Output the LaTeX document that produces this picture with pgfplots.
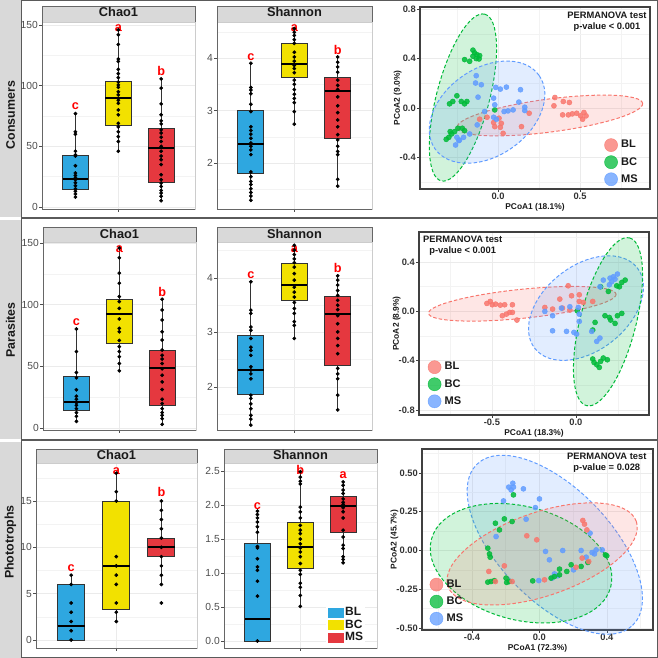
\documentclass[border=0pt]{standalone}
\usepackage{fontspec}
\setmainfont{Liberation Sans}
\usepackage{pgfplots}
\pgfplotsset{compat=1.18}
\usepgfplotslibrary{statistics}
\definecolor{cBL}{HTML}{2EA7E0}
\definecolor{cBC}{HTML}{F2E100}
\definecolor{cMS}{HTML}{E5383F}
\definecolor{pBL}{HTML}{F8766D}
\definecolor{pBC}{HTML}{00BA38}
\definecolor{pMS}{HTML}{619CFF}
\definecolor{gridc}{HTML}{EBEBEB}
\definecolor{stripc}{HTML}{D9D9D9}
\definecolor{tickc}{HTML}{4D4D4D}
\definecolor{framec}{HTML}{5A5A5A}
\definecolor{lettc}{HTML}{FF0000}

\newcommand{\bx}[7]{\addplot[forget plot, draw=black!80, fill=#2, line width=0.75pt, boxplot prepared={draw position=#1, lower whisker=#3, lower quartile=#4, median=#5, upper quartile=#6, upper whisker=#7, box extend=0.6, whisker extend=0}] coordinates {};}
\newcommand{\ellip}[7]{\pgfplotsextra{\begin{pgfscope}%
\pgfsetfillcolor{#1}\pgfsetstrokecolor{#1}\pgfsetfillopacity{0.18}\pgfsetlinewidth{0.75pt}\pgfsetdash{{2.6pt}{1.6pt}}{0pt}%
\pgfpathellipse{\pgfplotspointaxisxy{#2}{#3}}{\pgfplotspointaxisdirectionxy{#4}{#5}}{\pgfplotspointaxisdirectionxy{#6}{#7}}%
\pgfusepath{fill,stroke}\end{pgfscope}}}
\tikzset{lett/.style={anchor=base, inner sep=0pt, text=lettc, font=\bfseries\fontsize{9.5}{10}\selectfont},
 hdr/.style={inner sep=0pt, font=\bfseries\fontsize{9.6}{10}\selectfont, text=black!90},
 perm/.style={align=center, font=\bfseries\fontsize{7}{8.2}\selectfont, text=black!90}}

\pgfplotsset{
 boxax/.style={scale only axis, anchor=north west, clip=false,
   xmin=0.22, xmax=3.79, xtick={2}, xticklabels={},
   grid=both, minor x tick num=0,
   major grid style={draw=gridc, line width=0.6pt},
   minor grid style={draw=gridc!60, line width=0.4pt},
   tick align=outside, major tick length=2pt, minor tick length=0pt,
   xtick pos=bottom, ytick pos=left,
   tick style={draw=tickc, line width=0.5pt},
   axis line style={draw=gray!40, line width=0.5pt},
   yticklabel style={font=\fontsize{7.7}{8}\selectfont, text=tickc, inner sep=1pt},
   /pgf/number format/assume math mode=true,
   boxplot/draw direction=y,
   boxplot/every median/.style={draw=black, line width=1.5pt},
   extra description/.code={\draw[draw=black!60, line width=0.7pt] (0,1) -- (0,0) -- (1,0);}},
 pts/.style={forget plot, only marks, mark=*, mark size=1.2pt, black},
 pcoa/.style={scale only axis, anchor=north west, clip=false,
   grid=both,
   major grid style={draw=gridc, line width=0.6pt},
   minor grid style={draw=gridc!60, line width=0.4pt},
   tick align=outside, major tick length=2pt, minor tick length=0pt,
   xtick pos=bottom, ytick pos=left,
   tick style={draw=black!75, line width=0.5pt},
   axis line style={draw=black!75, line width=0.8pt},
   ticklabel style={font=\bfseries\fontsize{7}{8}\selectfont, text=black!80, inner sep=1pt},
   label style={font=\bfseries\fontsize{6.3}{7}\selectfont, text=black!90},
   xlabel style={yshift=2pt}, ylabel style={yshift=-6pt},
   legend cell align=left},
 sBL/.style={forget plot, only marks, mark=*, mark size=1.9pt, color=pBL, opacity=0.85},
 sBC/.style={forget plot, only marks, mark=*, mark size=1.9pt, color=pBC, opacity=0.85},
 sMS/.style={forget plot, only marks, mark=*, mark size=1.9pt, color=pMS, opacity=0.85},
 pleg/.style={legend style={at={#1}, anchor=north west, draw=none, fill=none,
   font=\bfseries\fontsize{8.3}{9}\selectfont, text=black!90, row sep=2.6pt, column sep=2pt,
   inner sep=0pt, nodes={inner sep=0.5pt}}},
}

\begin{document}
\begin{tikzpicture}
\path[use as bounding box] (0pt,0pt) rectangle (493.5pt,-493.5pt);
\begin{scope}[x=0.75pt, y=-0.75pt]
\fill[stripc] (0,0) rectangle (20.5,216.5);
\fill[stripc] (0,219.5) rectangle (20.5,438.5);
\fill[stripc] (0,441.5) rectangle (20.5,658);
\draw[framec, line width=0.9pt] (21.5,0) -- (21.5,658);
\draw[framec, line width=0.9pt] (21.5,0.5) -- (657.5,0.5) -- (657.5,657.5) -- (21.5,657.5);
\draw[framec, line width=0.9pt] (21.5,218) -- (657.5,218);
\draw[framec, line width=0.9pt] (21.5,440) -- (657.5,440);
\node[rotate=90, font=\bfseries\fontsize{9.3}{10}\selectfont, text=black!90] at (10.5,115) {Consumers};
\node[rotate=90, font=\bfseries\fontsize{9.3}{10}\selectfont, text=black!90] at (10.5,330) {Parasites};
\node[rotate=90, font=\bfseries\fontsize{9.3}{10}\selectfont, text=black!90] at (10.5,542) {Phototrophs};
% headers
\filldraw[fill=stripc, draw=gray!80!black, line width=0.5pt] (42,6) rectangle (195,22);
\node[hdr] at (118.5,12.3) {Chao1};
\filldraw[fill=stripc, draw=gray!80!black, line width=0.5pt] (217,6) rectangle (372,22);
\node[hdr] at (294.5,12.3) {Shannon};
\filldraw[fill=stripc, draw=gray!80!black, line width=0.5pt] (43,227) rectangle (196,242);
\node[hdr] at (119.5,233.5) {Chao1};
\filldraw[fill=stripc, draw=gray!80!black, line width=0.5pt] (217,227) rectangle (372,242);
\node[hdr] at (294.5,233.5) {Shannon};
\filldraw[fill=stripc, draw=gray!80!black, line width=0.5pt] (36,449) rectangle (197,463);
\node[hdr] at (116.5,455) {Chao1};
\filldraw[fill=stripc, draw=gray!80!black, line width=0.5pt] (224,449) rectangle (377,463);
\node[hdr] at (300.5,455) {Shannon};
\coordinate (A11) at (42,22);
\coordinate (A12) at (217,22);
\coordinate (P1) at (420,7);
\coordinate (A21) at (43,242);
\coordinate (A22) at (217,242);
\coordinate (P2) at (419,232);
\coordinate (A31) at (36,463);
\coordinate (A32) at (224,463);
\coordinate (P3) at (422,449);
\end{scope}

% ---------------- Row 1 Chao1
\begin{axis}[boxax, at={(A11)}, width=114.75pt, height=140.25pt, ymin=-1.65, ymax=152.5,
  ytick={0,50,100,150}, yticklabels={0,50,100,150}, minor ytick={25,75,125}]
\bx{1}{cBL}{8.2}{14.8}{23}{42.5}{77.3}
\bx{2}{cBC}{45}{67.2}{90}{103.6}{146.4}
\bx{3}{cMS}{5.2}{20.3}{49}{65}{105.6}
\addplot[pts] coordinates {(1,77)(1,62)(1,60)(1,46)(1,43)(1,42)(1,34)(1,28)(1,26)(1,24)(1,22.5)(1,20)(1,17.5)(1,15)(1,13)(1,10.7)(1,8.2)};
\addplot[pts] coordinates {(2,146)(2,142)(2,134)(2,122)(2,120)(2,113.5)(2,110)(2,106.6)(2,103)(2,100.6)(2,98.7)(2,95)(2,92.4)(2,88)(2,85.5)(2,80)(2,76)(2,69)(2,66)(2,62)(2,58)(2,54)(2,46)};
\addplot[pts] coordinates {(3,105.6)(3,98)(3,85)(3,76)(3,71)(3,68.5)(3,63.6)(3,61)(3,57.6)(3,54)(3,50)(3,46)(3,42)(3,39)(3,35)(3,26.6)(3,22.5)(3,19.7)(3,17)(3,13.7)(3,11.5)(3,8.8)(3,5.2)};
\node[lett] at (axis cs:1,80) {c};
\node[lett] at (axis cs:2,145) {a};
\node[lett] at (axis cs:3,108.6) {b};
\end{axis}

% ---------------- Row 1 Shannon
\begin{axis}[boxax, at={(A12)}, width=116.25pt, height=140.25pt, ymin=1.124, ymax=4.686,
  ytick={2,3,4}, yticklabels={2,3,4}, minor ytick={1.5,2.5,3.5,4.5}]
\bx{1}{cBL}{1.29}{1.80}{2.37}{3.00}{3.90}
\bx{2}{cBC}{2.74}{3.62}{3.88}{4.27}{4.56}
\bx{3}{cMS}{1.56}{2.47}{3.37}{3.63}{4.02}
\addplot[pts] coordinates {(1,3.9)(1,3.44)(1,3.39)(1,3.32)(1,3.12)(1,2.98)(1,2.69)(1,2.62)(1,2.55)(1,2.47)(1,2.38)(1,2.32)(1,2.25)(1,2.16)(1,1.83)(1,1.74)(1,1.65)(1,1.59)(1,1.51)(1,1.44)(1,1.37)(1,1.29)};
\addplot[pts] coordinates {(2,4.56)(2,4.49)(2,4.43)(2,4.35)(2,4.28)(2,4.11)(2,4.02)(2,3.94)(2,3.86)(2,3.80)(2,3.72)(2,3.58)(2,3.50)(2,3.40)(2,3.31)(2,3.23)(2,3.15)(2,2.98)(2,2.74)};
\addplot[pts] coordinates {(3,4.02)(3,3.92)(3,3.83)(3,3.73)(3,3.58)(3,3.48)(3,3.40)(3,3.26)(3,3.09)(3,2.96)(3,2.82)(3,2.69)(3,2.54)(3,2.44)(3,2.32)(3,2.22)(3,2.16)(3,1.69)(3,1.56)};
\node[lett] at (axis cs:1,3.956) {c};
\node[lett] at (axis cs:2,4.51) {a};
\node[lett] at (axis cs:3,4.07) {b};
\end{axis}

% ---------------- Row 1 PCoA
\begin{axis}[pcoa, at={(P1)}, width=172.5pt, height=136.5pt,
  xmin=-0.476, xmax=0.927, ymin=-0.652, ymax=0.816,
  xtick={0,0.5}, xticklabels={0.0,0.5}, minor xtick={-0.25,0.25,0.75},
  ytick={-0.4,0,0.4,0.8}, yticklabels={-0.4,0.0,0.4,0.8}, minor ytick={-0.6,-0.2,0.2,0.6},
  xlabel={PCoA1 (18.1\%)}, ylabel={PCoA2 (9.0\%)}, pleg={(rel axis cs:0.80,0.28)}]
\ellip{pBL}{0.316}{-0.059}{0.566}{0.098}{0.013}{-0.132}
\ellip{pBC}{-0.214}{0.086}{0.133}{0.672}{0.156}{-0.054}
\ellip{pMS}{-0.067}{-0.032}{0.318}{0.295}{0.152}{-0.288}
\addplot[sBL] coordinates {(0.347,0.086)(0.398,0.054)(0.435,0.046)(0.341,0.019)(0.394,-0.054)(0.429,-0.054)(0.453,-0.046)(0.480,-0.041)(0.504,-0.062)(0.524,-0.035)(0.537,-0.062)(0.516,-0.089)(-0.112,-0.089)(-0.067,-0.073)(-0.027,-0.116)(-0.020,-0.149)(0.014,-0.154)(0.020,-0.122)(0.031,-0.203)(0.006,-0.081)(0.143,-0.149)(0.190,-0.041)};
\addplot[sBC] coordinates {(-0.153,0.468)(-0.143,0.446)(-0.129,0.432)(-0.112,0.424)(-0.153,0.419)(-0.133,0.400)(-0.173,0.378)(-0.204,0.392)(-0.116,0.397)(-0.296,0.035)(-0.276,0.054)(-0.251,0.100)(-0.224,0.054)(-0.190,0.054)(-0.204,0.035)(-0.020,-0.014)(-0.316,-0.251)(-0.300,-0.235)(-0.284,-0.208)(-0.265,-0.189)(-0.245,-0.162)(-0.218,-0.162)(-0.204,-0.181)(-0.292,-0.189)};
\addplot[sMS] coordinates {(-0.133,0.262)(-0.137,0.203)(-0.102,0.189)(-0.122,0.089)(-0.082,-0.027)(-0.027,0.081)(-0.014,0.168)(0.014,0.154)(0.051,0.170)(0.137,0.149)(0.127,0.049)(0.163,0.008)(0.163,-0.019)(0.061,-0.022)(0.037,-0.027)(0.092,-0.014)(-0.027,-0.073)(-0.010,-0.089)(-0.127,-0.135)(-0.173,-0.208)(-0.251,-0.235)(-0.235,-0.257)(-0.210,-0.235)(-0.259,-0.297)(-0.239,-0.262)(-0.020,0.027)};
\node[perm] at (rel axis cs:0.813,0.92) {PERMANOVA test\\p-value < 0.001};
\addlegendimage{legend image code/.code={\fill[pBL, opacity=0.75] (4.9pt,0pt) circle (4.9pt);}}
\addlegendentry{BL}
\addlegendimage{legend image code/.code={\fill[pBC, opacity=0.75] (4.9pt,0pt) circle (4.9pt);}}
\addlegendentry{BC}
\addlegendimage{legend image code/.code={\fill[pMS, opacity=0.75] (4.9pt,0pt) circle (4.9pt);}}
\addlegendentry{MS}
\end{axis}

% ---------------- Row 2 Chao1
\begin{axis}[boxax, at={(A21)}, width=114.75pt, height=141pt, ymin=-1.6, ymax=150.8,
  ytick={0,50,100,150}, yticklabels={0,50,100,150}, minor ytick={25,75,125}]
\bx{1}{cBL}{5.4}{14.1}{21.2}{42}{80.3}
\bx{2}{cBC}{46.4}{68.6}{92.2}{103.9}{145.9}
\bx{3}{cMS}{3}{17.9}{48.8}{63.2}{104.4}
\addplot[pts] coordinates {(1,80.3)(1,62)(1,45)(1,40.7)(1,31)(1,25.8)(1,23.3)(1,20.6)(1,18.4)(1,15.7)(1,12.5)(1,9.5)(1,5.4)};
\addplot[pts] coordinates {(2,145.9)(2,138)(2,125.6)(2,117.4)(2,106.6)(2,102.5)(2,97)(2,88.4)(2,80.8)(2,78)(2,71)(2,66)(2,62)(2,57.8)(2,52.3)(2,46.4)};
\addplot[pts] coordinates {(3,104.4)(3,95.7)(3,87.6)(3,78)(3,71.3)(3,63.2)(3,59)(3,55.9)(3,52.3)(3,48)(3,42.8)(3,37.4)(3,31.2)(3,23.3)(3,19.8)(3,15.7)(3,12.5)(3,10.3)(3,7.6)(3,3)};
\node[lett] at (axis cs:1,83) {c};
\node[lett] at (axis cs:2,142.4) {a};
\node[lett] at (axis cs:3,107) {b};
\end{axis}

% ---------------- Row 2 Shannon
\begin{axis}[boxax, at={(A22)}, width=116.25pt, height=141pt, ymin=1.21, ymax=4.66,
  ytick={2,3,4}, yticklabels={2,3,4}, minor ytick={1.5,2.5,3.5,4.5}]
\bx{1}{cBL}{1.30}{1.87}{2.32}{2.94}{3.93}
\bx{2}{cBC}{2.89}{3.58}{3.87}{4.26}{4.60}
\bx{3}{cMS}{1.58}{2.40}{3.33}{3.66}{4.04}
\addplot[pts] coordinates {(1,3.93)(1,3.41)(1,3.35)(1,3.10)(1,3.04)(1,2.89)(1,2.73)(1,2.67)(1,2.58)(1,2.37)(1,2.31)(1,2.24)(1,2.15)(1,1.85)(1,1.79)(1,1.69)(1,1.60)(1,1.48)(1,1.41)(1,1.30)};
\addplot[pts] coordinates {(2,4.60)(2,4.51)(2,4.43)(2,4.35)(2,4.28)(2,4.20)(2,4.08)(2,3.96)(2,3.83)(2,3.74)(2,3.65)(2,3.55)(2,3.44)(2,3.35)(2,3.20)(2,3.13)(2,2.89)};
\addplot[pts] coordinates {(3,4.04)(3,3.96)(3,3.87)(3,3.77)(3,3.68)(3,3.59)(3,3.50)(3,3.42)(3,3.31)(3,3.16)(3,3.01)(3,2.89)(3,2.76)(3,2.61)(3,2.34)(3,2.24)(3,2.15)(3,1.85)(3,1.58)};
\node[lett] at (axis cs:1,3.99) {c};
\node[lett] at (axis cs:2,4.47) {a};
\node[lett] at (axis cs:3,4.10) {b};
\end{axis}

% ---------------- Row 2 PCoA
\begin{axis}[pcoa, at={(P2)}, width=172.5pt, height=137.25pt,
  xmin=-0.934, xmax=0.435, ymin=-0.84, ymax=0.644,
  xtick={-0.5,0}, xticklabels={-0.5,0.0}, minor xtick={-0.75,-0.25,0.25},
  ytick={-0.8,-0.4,0,0.4}, yticklabels={-0.8,-0.4,0.0,0.4}, minor ytick={-0.6,-0.2,0.2,0.6},
  xlabel={PCoA1 (18.3\%)}, ylabel={PCoA2 (8.9\%)}, pleg={(rel axis cs:0.037,0.30)}]
\ellip{pBL}{-0.319}{0.062}{0.558}{0.078}{0.009}{-0.117}
\ellip{pMS}{0.060}{0.027}{0.304}{0.328}{0.157}{-0.269}
\ellip{pBC}{0.191}{-0.084}{0.128}{0.680}{0.161}{-0.056}
\addplot[sBL] coordinates {(-0.530,0.065)(-0.510,0.081)(-0.498,0.054)(-0.478,0.059)(-0.450,0.051)(-0.424,0.054)(-0.378,0.054)(-0.414,-0.022)(-0.438,-0.035)(-0.394,-0.008)(-0.378,-0.008)(-0.351,-0.070)(-0.185,0.032)(-0.096,0.100)(-0.046,0.208)(-0.026,0.127)(0.020,0.135)(0.020,0.081)(-0.139,0.019)(-0.080,0.027)(-0.036,0.011)(0.044,0.073)(0.100,0.081)};
\addplot[sBC] coordinates {(0.147,0.200)(0.193,0.162)(0.243,0.208)(0.259,0.200)(0.273,0.235)(0.293,0.254)(0.173,-0.035)(0.199,-0.049)(0.207,-0.070)(0.233,-0.097)(0.247,-0.035)(0.273,-0.016)(0.100,-0.151)(0.114,-0.089)(0.008,0.005)(0.100,-0.386)(0.108,-0.414)(0.124,-0.432)(0.139,-0.454)(0.147,-0.405)(0.163,-0.378)(0.187,-0.392)};
\addplot[sMS] coordinates {(-0.185,0.000)(-0.139,-0.035)(-0.086,0.027)(-0.036,0.038)(0.014,0.032)(0.020,-0.022)(0.020,-0.081)(-0.139,-0.157)(-0.056,-0.162)(-0.012,-0.170)(0.004,-0.184)(0.094,-0.162)(0.124,-0.243)(0.143,-0.216)(0.163,0.254)(0.203,0.270)(0.213,0.241)(0.233,0.262)(0.247,0.303)(0.199,0.216)(0.223,0.281)(0.143,0.200)};
\node[perm] at (rel axis cs:0.19,0.926) {PERMANOVA test\\p-value < 0.001};
\addlegendimage{legend image code/.code={\fill[pBL, opacity=0.75] (4.9pt,0pt) circle (4.9pt);}}
\addlegendentry{BL}
\addlegendimage{legend image code/.code={\fill[pBC, opacity=0.75] (4.9pt,0pt) circle (4.9pt);}}
\addlegendentry{BC}
\addlegendimage{legend image code/.code={\fill[pMS, opacity=0.75] (4.9pt,0pt) circle (4.9pt);}}
\addlegendentry{MS}
\end{axis}

% ---------------- Row 3 Chao1
\begin{axis}[boxax, at={(A31)}, width=120.75pt, height=138.75pt, ymin=-0.86, ymax=19.1,
  ytick={0,5,10,15}, yticklabels={0,5,10,15}, minor ytick={2.5,7.5,12.5,17.5}]
\bx{1}{cBL}{0}{0}{1.5}{6}{7}
\bx{2}{cBC}{2}{3.25}{8}{15}{18}
\bx{3}{cMS}{6}{9}{10}{11}{15}
\addplot[pts] coordinates {(1,7)(1,6)(1,4)(1,3)(1,2)(1,1)(1,0)};
\addplot[pts] coordinates {(2,18)(2,16)(2,15)(2,9)(2,8)(2,7)(2,6)(2,4)(2,3)(2,2)};
\addplot[pts] coordinates {(3,15)(3,14)(3,13)(3,12)(3,11)(3,10)(3,9)(3,8)(3,7)(3,6)(3,4)};
\node[lett] at (axis cs:1,7.4) {c};
\node[lett] at (axis cs:2,17.9) {a};
\node[lett] at (axis cs:3,15.5) {b};
\end{axis}

% ---------------- Row 3 Shannon
\begin{axis}[boxax, at={(A32)}, width=114.75pt, height=138.75pt, ymin=-0.103, ymax=2.618,
  ytick={0,0.5,1,1.5,2,2.5}, yticklabels={0.0,0.5,1.0,1.5,2.0,2.5}, minor ytick={0.25,0.75,1.25,1.75,2.25},
  legend style={at={(rel axis cs:0.667,0.016)}, anchor=south west, draw=none, fill=white,
   font=\bfseries\fontsize{9}{9}\selectfont, text=black!90, row sep=0.6pt, column sep=1pt,
   inner sep=1pt, nodes={inner sep=0.5pt}}, legend cell align=left]
\bx{1}{cBL}{0}{0}{0.33}{1.43}{1.91}
\bx{2}{cBC}{0.5}{1.07}{1.38}{1.74}{2.49}
\bx{3}{cMS}{1.15}{1.59}{1.98}{2.12}{2.34}
\addplot[pts] coordinates {(1,1.91)(1,1.86)(1,1.81)(1,1.75)(1,1.68)(1,1.60)(1,1.39)(1,1.37)(1,1.21)(1,1.09)(1,1.04)(1,0.88)(1,0.66)(1,0)};
\addplot[pts] coordinates {(2,2.49)(2,2.41)(2,2.35)(2,2.31)(2,1.97)(2,1.90)(2,1.81)(2,1.70)(2,1.63)(2,1.58)(2,1.50)(2,1.43)(2,1.37)(2,1.31)(2,1.24)(2,1.14)(2,1.04)(2,0.98)(2,0.85)(2,0.79)(2,0.67)(2,0.51)};
\addplot[pts] coordinates {(3,2.34)(3,2.29)(3,2.22)(3,2.17)(3,2.09)(3,2.04)(3,2.01)(3,1.96)(3,1.90)(3,1.81)(3,1.63)(3,1.53)(3,1.41)(3,1.36)(3,1.24)(3,1.20)(3,1.15)};
\node[lett] at (axis cs:1,1.94) {c};
\node[lett] at (axis cs:2,2.45) {b};
\node[lett] at (axis cs:3,2.39) {a};
\addlegendimage{legend image code/.code={\fill[cBL] (0pt,-3.4pt) rectangle (11.25pt,3.4pt);}}
\addlegendentry{BL}
\addlegendimage{legend image code/.code={\fill[cBC] (0pt,-3.4pt) rectangle (11.25pt,3.4pt);}}
\addlegendentry{BC}
\addlegendimage{legend image code/.code={\fill[cMS] (0pt,-3.4pt) rectangle (11.25pt,3.4pt);}}
\addlegendentry{MS}
\end{axis}

% ---------------- Row 3 PCoA
\begin{axis}[pcoa, at={(P3)}, width=173.25pt, height=135.75pt,
  xmin=-0.696, xmax=0.673, ymin=-0.513, ymax=0.655,
  xtick={-0.4,0,0.4}, xticklabels={-0.4,0.0,0.4}, minor xtick={-0.6,-0.2,0.2,0.6},
  ytick={-0.5,-0.25,0,0.25,0.5}, yticklabels={-0.50,-0.25,0.00,0.25,0.50}, minor ytick={-0.375,-0.125,0.125,0.375,0.625},
  xlabel={PCoA1 (72.3\%)}, ylabel={PCoA2 (45.7\%)}, pleg={(rel axis cs:0.032,0.29)}]
\ellip{pMS}{0.091}{0.037}{0.461}{-0.520}{0.239}{0.251}
\ellip{pBC}{-0.109}{-0.082}{0.531}{-0.155}{0.087}{0.353}
\ellip{pBL}{0.016}{-0.022}{0.558}{0.210}{0.081}{-0.254}
\addplot[sMS] coordinates {(-0.182,0.409)(-0.158,0.434)(-0.154,0.409)(-0.168,0.391)(-0.095,0.398)(0.000,0.333)(-0.024,0.277)(-0.213,0.320)(-0.079,0.202)(-0.257,0.090)(0.036,-0.006)(0.059,-0.060)(0.138,0.000)(0.247,0.000)(0.300,0.112)(0.312,-0.013)(0.336,0.004)(0.372,0.004)(0.277,-0.043)(0.202,-0.125)(0.089,-0.151)(0.075,-0.178)(-0.004,-0.194)(0.109,-0.163)(0.326,-0.022)};
\addplot[sBC] coordinates {(-0.154,0.359)(-0.261,0.176)(-0.208,0.204)(-0.162,0.187)(-0.237,0.133)(-0.306,0.015)(-0.296,-0.022)(-0.292,-0.043)(-0.306,-0.204)(-0.287,-0.200)(-0.267,-0.194)(-0.198,-0.178)(-0.194,-0.206)(-0.178,-0.200)(-0.040,-0.196)(0.069,-0.178)(0.089,-0.168)(0.119,-0.120)(0.119,-0.157)(0.162,-0.135)(0.188,-0.092)(0.247,-0.103)(0.287,-0.077)(0.391,-0.028)(0.399,-0.034)};
\addplot[sBL] coordinates {(0.257,0.194)(0.267,0.170)(0.281,0.133)(-0.016,0.069)(-0.075,0.095)(-0.208,-0.099)(-0.300,-0.135)(-0.261,-0.200)(-0.162,-0.200)(0.030,-0.189)(0.217,-0.108)(0.253,-0.049)(0.292,-0.071)};
\node[perm] at (rel axis cs:0.80,0.925) {PERMANOVA test\\p-value = 0.028};
\addlegendimage{legend image code/.code={\fill[pBL, opacity=0.75] (4.9pt,0pt) circle (4.9pt);}}
\addlegendentry{BL}
\addlegendimage{legend image code/.code={\fill[pBC, opacity=0.75] (4.9pt,0pt) circle (4.9pt);}}
\addlegendentry{BC}
\addlegendimage{legend image code/.code={\fill[pMS, opacity=0.75] (4.9pt,0pt) circle (4.9pt);}}
\addlegendentry{MS}
\end{axis}
\end{tikzpicture}
\end{document}
